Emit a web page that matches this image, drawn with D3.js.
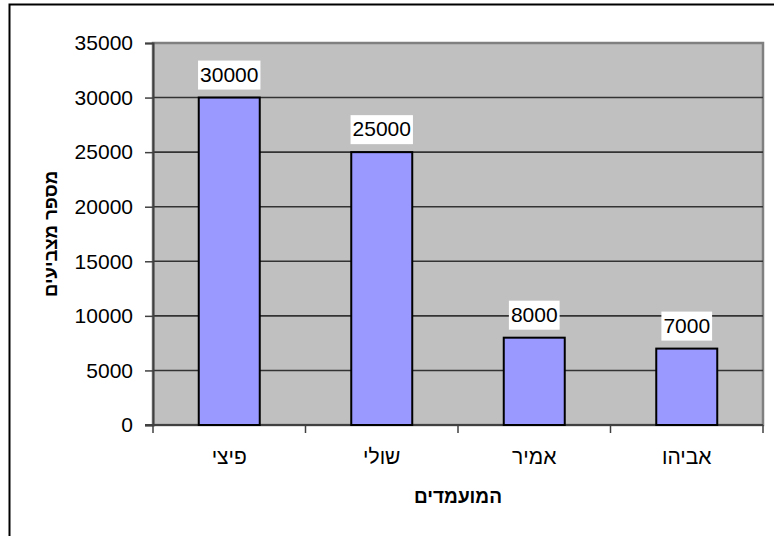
<!DOCTYPE html>
<html>
<head>
<meta charset="utf-8">
<script src="https://cdn.jsdelivr.net/npm/d3@7/dist/d3.min.js"></script>
<style>
  body { margin: 0; background: #fff; }
  svg text { font-family: "Liberation Sans", Arial, "DejaVu Sans", sans-serif; }
</style>
</head>
<body>
<svg id="chart" width="774" height="536"></svg>
<script>
// --- Data ---
const candidates = ["פיצי", "שולי", "אמיר", "אביהו"];
const votes = [30000, 25000, 8000, 7000];
const yTicks = [0, 5000, 10000, 15000, 20000, 25000, 30000, 35000];
const xTitle = "המועמדים";
const yTitle = "מספר מצביעים";

// --- Layout ---
const plot = { left: 153, top: 43, right: 763, bottom: 425 };
const fontSize = 21;

const svg = d3.select("#chart");

// outer frame (runs off the right/bottom edge like the original)
svg.append("rect")
    .attr("x", 9.5).attr("y", 4.5)
    .attr("width", 900).attr("height", 700)
    .attr("fill", "none")
    .attr("stroke", "#000")
    .attr("stroke-width", 2);

const x = d3.scaleBand()
    .domain(candidates)
    .range([plot.left, plot.right])
    .paddingInner(0.6)
    .paddingOuter(0.3);

const xBand = d3.scaleBand()
    .domain(candidates)
    .range([plot.left, plot.right]);

const y = d3.scaleLinear()
    .domain([0, 35000])
    .range([plot.bottom, plot.top]);

// plot background
svg.append("rect")
    .attr("x", plot.left).attr("y", plot.top)
    .attr("width", plot.right - plot.left)
    .attr("height", plot.bottom - plot.top)
    .attr("fill", "#c0c0c0")
    .attr("stroke", "#808080")
    .attr("stroke-width", 2.5);

// gridlines
svg.append("g")
    .selectAll("line")
    .data(yTicks.filter(d => d > 0 && d < 35000))
    .join("line")
    .attr("x1", plot.left).attr("x2", plot.right)
    .attr("y1", d => y(d)).attr("y2", d => y(d))
    .attr("stroke", "#333")
    .attr("stroke-width", 1.6);

// y axis
const yAxis = d3.axisLeft(y)
    .tickValues(yTicks)
    .tickSize(8)
    .tickPadding(12)
    .tickFormat(d3.format("d"));
const gy = svg.append("g")
    .attr("transform", `translate(${plot.left},0)`)
    .call(yAxis);
gy.select(".domain").attr("stroke", "#404040").attr("stroke-width", 2);
gy.selectAll(".tick line").attr("stroke", "#404040").attr("stroke-width", 1.5);
gy.selectAll(".tick text")
    .attr("fill", "#000")
    .style("font-size", fontSize + "px")
    .style("font-family", '"Liberation Sans", Arial, sans-serif');

// x axis line + boundary ticks
svg.append("line")
    .attr("x1", plot.left - 8).attr("x2", plot.right)
    .attr("y1", plot.bottom).attr("y2", plot.bottom)
    .attr("stroke", "#404040").attr("stroke-width", 2);
const bounds = candidates.map(c => xBand(c)).concat([plot.right]);
svg.append("g")
    .selectAll("line")
    .data(bounds)
    .join("line")
    .attr("x1", d => d).attr("x2", d => d)
    .attr("y1", plot.bottom).attr("y2", plot.bottom + 8)
    .attr("stroke", "#404040").attr("stroke-width", 1.5);

// bars
svg.append("g")
    .selectAll("rect")
    .data(votes)
    .join("rect")
    .attr("x", (d, i) => x(candidates[i]))
    .attr("y", d => y(d))
    .attr("width", x.bandwidth())
    .attr("height", d => y(0) - y(d))
    .attr("fill", "#9999ff")
    .attr("stroke", "#000")
    .attr("stroke-width", 2);

// data labels with white boxes
const labels = svg.append("g")
    .selectAll("g")
    .data(votes)
    .join("g")
    .attr("transform", (d, i) => `translate(${x(candidates[i]) + x.bandwidth() / 2},${y(d) - 16})`);
labels.append("rect")
    .attr("x", d => -(String(d).length * fontSize * 0.556) / 2 - 2)
    .attr("y", -21)
    .attr("width", d => String(d).length * fontSize * 0.556 + 4)
    .attr("height", 29)
    .attr("fill", "#fff");
labels.append("text")
    .attr("text-anchor", "middle")
    .style("font-size", fontSize + "px")
    .text(d => d);

// category labels
svg.append("g")
    .selectAll("text")
    .data(candidates)
    .join("text")
    .attr("x", d => xBand(d) + xBand.bandwidth() / 2)
    .attr("y", 464)
    .attr("text-anchor", "middle")
    .style("font-size", fontSize + "px")
    .text(d => d);

// axis titles
svg.append("text")
    .attr("x", (plot.left + plot.right) / 2)
    .attr("y", 503)
    .attr("text-anchor", "middle")
    .style("font-size", "19px")
    .style("font-weight", "bold")
    .text(xTitle);

svg.append("text")
    .attr("transform", `translate(57,${(plot.top + plot.bottom) / 2}) rotate(-90)`)
    .attr("text-anchor", "middle")
    .style("font-size", "18.5px")
    .style("font-weight", "bold")
    .text(yTitle);
</script>
</body>
</html>
